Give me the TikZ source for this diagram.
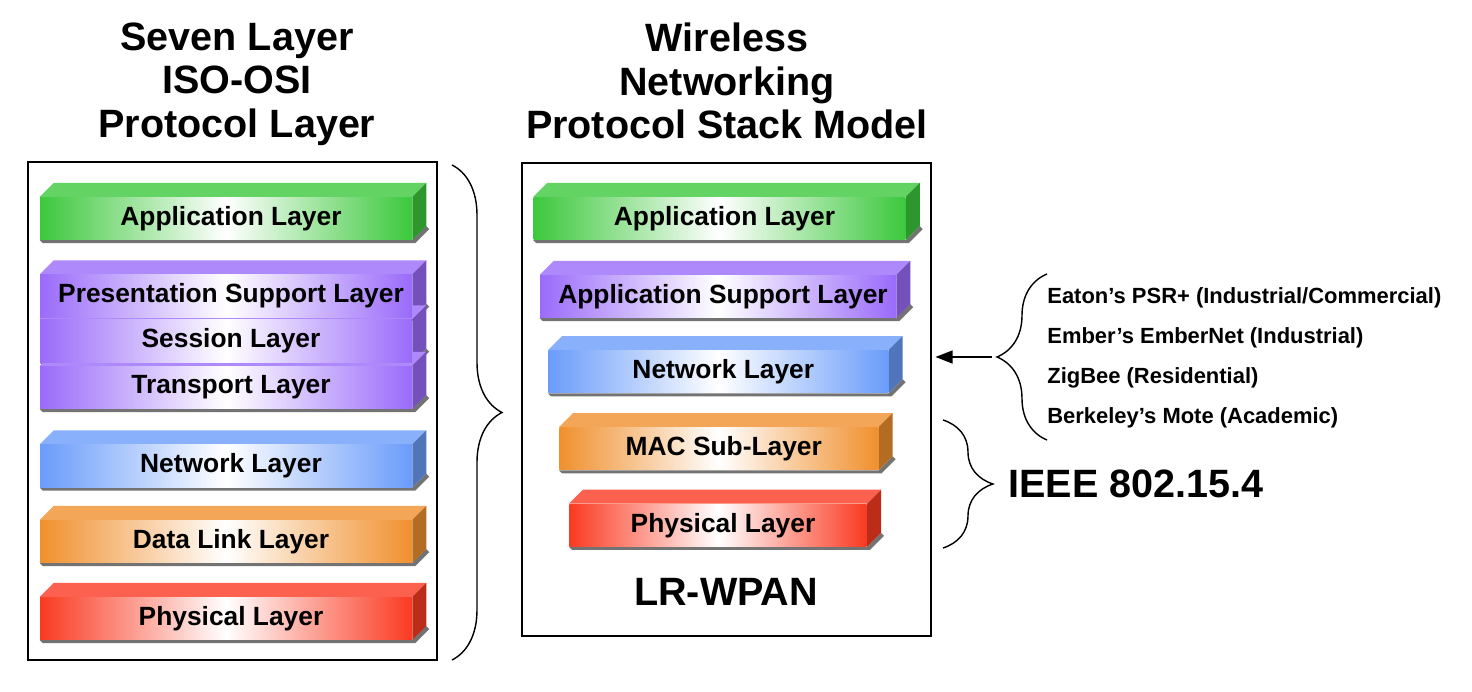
\documentclass[tikz,border=0pt]{standalone}
\usepackage{fontspec}
\setmainfont{Liberation Sans}
\usetikzlibrary{positioning, arrows.meta, decorations.pathreplacing}

\pgfdeclarelayer{back}
\pgfsetlayers{back,main}

\definecolor{appgreen}{HTML}{3CC83C}
\definecolor{suppurple}{HTML}{9A6BFA}
\definecolor{netblue}{HTML}{6A9CFA}
\definecolor{linkorange}{HTML}{F0902E}
\definecolor{phyred}{HTML}{FA3A22}

% one 3D bar: name, centre, width, colour, text
\newcommand{\layerbar}[5]{%
  \node[stackbar=#4, minimum width=#3] (#1) at (#2) {#5};
  \begin{pgfonlayer}{back}
    \fill[black!55] ([shift={(3,3)}]#1.south west) -- ([shift={(3,3)}]#1.south east)
      -- ([shift={(17,-11)}]#1.south east) -- ([shift={(14,-14)}]#1.south east)
      -- (#1.south east) -- (#1.south west) -- cycle;
    \fill[#4!80!white] (#1.north west) -- ++(14,-14)
      -- ([shift={(14,-14)}]#1.north east) -- (#1.north east) -- cycle;
    \fill[#4!75!black] (#1.north east) -- ++(14,-14)
      -- ([shift={(14,-14)}]#1.south east) -- (#1.south east) -- cycle;
  \end{pgfonlayer}
}

\begin{document}
\begin{tikzpicture}[
    x=0.02cm, y=-0.02cm,
    stackbar/.style={
      left color=#1, right color=#1, middle color=white,
      minimum height=0.85cm, inner sep=0pt, text=black,
      font=\bfseries\fontsize{15}{18}\selectfont,
      execute at begin node=\hspace*{0.2cm}
    },
    frame/.style={draw=black, line width=1.2pt, inner sep=0pt},
    title/.style={align=center, inner sep=0pt, font=\bfseries\fontsize{22.5}{24.7}\selectfont},
    big/.style={inner sep=0pt, font=\bfseries\fontsize{22.5}{26}\selectfont},
    proto/.style={anchor=west, inner sep=0pt, font=\bfseries\fontsize{12.5}{15}\selectfont},
    brace/.style={decorate, decoration={brace, amplitude=1cm}, line width=0.8pt},
    arr/.style={-{Triangle[length=3.4mm, width=2.6mm]}, line width=0.8pt}
  ]
  \useasboundingbox (0,0) rectangle (1472,692);

  % frames and headings
  \node[frame, minimum width=8.18cm, minimum height=9.96cm] (osi) at (232.5,411) {};
  \node[frame, minimum width=8.18cm, minimum height=9.46cm] (wpan) at (726.5,399.5) {};
  \node[title] (osititle) at (237,84) {Seven Layer\\ISO-OSI\\Protocol Layer};
  \node[title] (wpantitle) at (727,81) {Wireless\\Networking\\Protocol Stack Model};

  % ISO-OSI stack
  \layerbar{osiapp}{226,218.5}{7.44cm}{appgreen}{Application Layer}
  \layerbar{osipres}{226,296}{7.44cm}{suppurple}{Presentation Support Layer}
  \layerbar{osises}{226,341}{7.44cm}{suppurple}{Session Layer}
  \layerbar{ositrans}{226,387.5}{7.44cm}{suppurple}{Transport Layer}
  \layerbar{osinet}{226,466}{7.44cm}{netblue}{Network Layer}
  \layerbar{osilink}{226,541.5}{7.44cm}{linkorange}{Data Link Layer}
  \layerbar{osiphy}{226,618.5}{7.44cm}{phyred}{Physical Layer}

  % wireless stack
  \layerbar{wapp}{719.5,218.5}{7.44cm}{appgreen}{Application Layer}
  \layerbar{wsup}{718,296.5}{7.12cm}{suppurple}{Application Support Layer}
  \layerbar{wnet}{718.3,371.7}{6.8cm}{netblue}{Network Layer}
  \layerbar{wmac}{718.8,448.7}{6.38cm}{linkorange}{MAC Sub-Layer}
  \layerbar{wphy}{718,525.3}{5.95cm}{phyred}{Physical Layer}
  \node[big, below=0.62cm of wphy, xshift=0.16cm] (lrwpan) {LR-WPAN};

  % braces
  \coordinate (osibraceA) at (452,165);
  \coordinate (osibraceB) at (452,660);
  \draw[brace] (osibraceA) -- (osibraceB);

  \coordinate (ieeeA) at (943,420);
  \coordinate (ieeeB) at (943,548);
  \coordinate (ieeetip) at (993,484);
  \draw[brace] (ieeeA) -- (ieeeB);
  \node[big, anchor=west, right=0.3cm of ieeetip] (ieee) {IEEE 802.15.4};

  \coordinate (protoA) at (1047,274);
  \coordinate (protoB) at (1047,440);
  \coordinate (prototip) at (992,357);
  \draw[brace] (protoB) -- (protoA);
  \node[proto] (eaton) at (1047,298) {Eaton’s PSR+ (Industrial/Commercial)};
  \node[proto] (ember) at (1047,338) {Ember’s EmberNet (Industrial)};
  \node[proto] (zigbee) at (1047,378) {ZigBee (Residential)};
  \node[proto] (mote) at (1047,418) {Berkeley’s Mote (Academic)};
  \draw[arr, shorten >=2pt] (prototip) -- (wpan.east |- prototip);
\end{tikzpicture}
\end{document}
